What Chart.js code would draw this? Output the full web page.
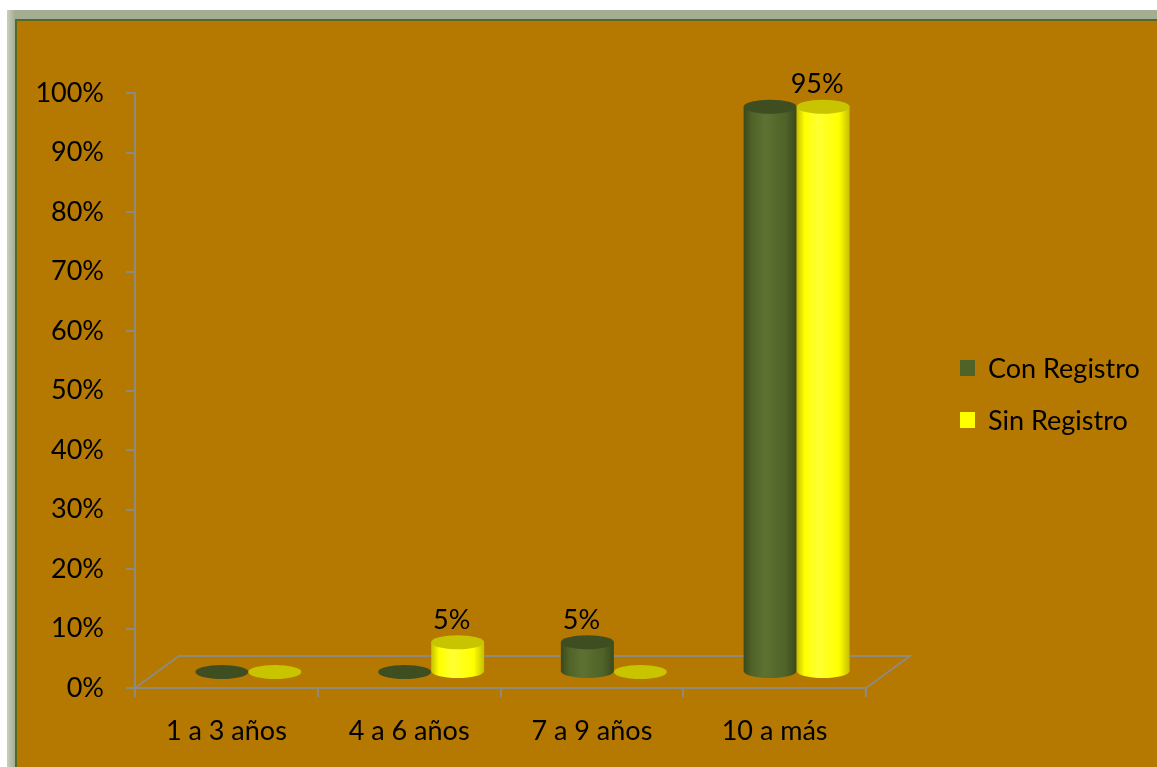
<!DOCTYPE html>
<html>
<head>
<meta charset="utf-8">
<script src="https://cdn.jsdelivr.net/npm/chart.js@4.4.0/dist/chart.umd.min.js"></script>
<style>
  body { margin: 0; background: #ffffff; overflow: hidden; }
  #marco {
    position: absolute; left: 7px; top: 10px; width: 1200px; height: 800px;
    background: linear-gradient(to right, #c9cfbd, #a3ad92 8px);
  }
  #fondo {
    position: absolute; left: 15px; top: 19px; width: 1200px; height: 800px;
    border: 2px solid #55682a; background: #b57800;
  }
  #grafico { position: absolute; left: 0; top: 0; }
</style>
</head>
<body>
<div id="marco"></div>
<div id="fondo"></div>
<canvas id="grafico" width="1157" height="767"></canvas>
<script>
const categorias = ["1 a 3 años", "4 a 6 años", "7 a 9 años", "10 a más"];
const conRegistro = [0, 0, 5, 95];
const sinRegistro = [0, 5, 0, 95];
// etiquetas de datos que se ven en el grafico
const etiquetasCon = ["", "", "5%", ""];
const etiquetasSin = ["", "5%", "", "95%"];
const marcasY = [0, 10, 20, 30, 40, 50, 60, 70, 80, 90, 100];

const fuente = "Lato, 'Open Sans', sans-serif";
const tamLetra = 27;
const gris = "#8e8a7e";
const prof = { dx: 44, dy: -32 };   // fondo 3D del piso

const colores = {
  con: { base: "#4f6228", borde: "#3a4a1c", luz: "#5d7232", tapa: "#3e4e20" },
  sin: { base: "#ffff00", borde: "#c4c000", luz: "#ffff33", tapa: "#c8c400" }
};

// dibuja los cilindros usando las coordenadas que calcula Chart.js
const cilindros = {
  id: "cilindros",
  beforeDatasetsDraw(chart) {
    const ctx = chart.ctx;
    const a = chart.chartArea;
    ctx.save();
    ctx.strokeStyle = gris;
    ctx.lineWidth = 2;
    ctx.beginPath();
    ctx.moveTo(a.left, a.bottom);
    ctx.lineTo(a.left + prof.dx, a.bottom + prof.dy);
    ctx.lineTo(a.right + prof.dx, a.bottom + prof.dy);
    ctx.lineTo(a.right, a.bottom);
    ctx.stroke();

    const dx = prof.dx / 2, dy = prof.dy / 2, ry = 7;
    chart.data.datasets.forEach((ds, i) => {
      const c = ds.paleta;
      chart.getDatasetMeta(i).data.forEach((el) => {
        const cx = el.x + dx;
        const w = el.width;
        const top = el.y + dy;
        const base = el.base + dy;
        if (base - top < 1) {
          ctx.fillStyle = c.tapa;
          ctx.beginPath();
          ctx.ellipse(cx, base, w / 2, ry, 0, 0, Math.PI * 2);
          ctx.fill();
          return;
        }
        const g = ctx.createLinearGradient(cx - w / 2, 0, cx + w / 2, 0);
        g.addColorStop(0, c.borde);
        g.addColorStop(0.15, c.base);
        g.addColorStop(0.4, c.luz);
        g.addColorStop(0.8, c.base);
        g.addColorStop(1, c.borde);
        ctx.fillStyle = g;
        ctx.beginPath();
        ctx.moveTo(cx - w / 2, top);
        ctx.lineTo(cx - w / 2, base);
        ctx.ellipse(cx, base, w / 2, ry, 0, Math.PI, 0, true);
        ctx.lineTo(cx + w / 2, top);
        ctx.closePath();
        ctx.fill();
        ctx.fillStyle = c.tapa;
        ctx.beginPath();
        ctx.ellipse(cx, top, w / 2, ry, 0, 0, Math.PI * 2);
        ctx.fill();
      });
    });
    ctx.restore();
    return false;
  },
  afterDraw(chart) {
    const ctx = chart.ctx;
    ctx.save();
    ctx.font = tamLetra + "px " + fuente;
    ctx.fillStyle = "#000";
    ctx.textAlign = "center";
    ctx.textBaseline = "middle";
    chart.data.datasets.forEach((ds, i) => {
      chart.getDatasetMeta(i).data.forEach((el, j) => {
        const txt = ds.etiquetas[j];
        if (!txt) return;
        ctx.fillText(txt, el.x + prof.dx / 2 - 6, el.y + prof.dy / 2 - 22);
      });
    });
    // leyenda
    ctx.textAlign = "left";
    chart.data.datasets.forEach((ds, i) => {
      const y = 368 + i * 52;
      ctx.fillStyle = ds.backgroundColor;
      ctx.fillRect(960, y - 8, 15, 16);
      ctx.fillStyle = "#000";
      ctx.fillText(ds.label, 988, y + 1);
    });
    ctx.restore();
  }
};

new Chart(document.getElementById("grafico"), {
  type: "bar",
  data: {
    labels: categorias,
    datasets: [
      { label: "Con Registro", data: conRegistro, backgroundColor: colores.con.base,
        paleta: colores.con, etiquetas: etiquetasCon },
      { label: "Sin Registro", data: sinRegistro, backgroundColor: colores.sin.base,
        paleta: colores.sin, etiquetas: etiquetasSin }
    ]
  },
  options: {
    responsive: false,
    animation: false,
    categoryPercentage: 0.58,
    barPercentage: 1,
    layout: { padding: { left: 20, top: 93, right: 291, bottom: 0 } },
    plugins: { legend: { display: false }, tooltip: { enabled: false } },
    scales: {
      x: {
        grid: { display: true, offset: true, drawOnChartArea: false, color: gris, lineWidth: 2, tickLength: 9 },
        border: { color: gris, width: 2 },
        ticks: { color: "#000", font: { family: fuente, size: tamLetra }, padding: 18 },
        afterFit(s) { s.height = 79; }
      },
      y: {
        min: 0, max: 100,
        afterBuildTicks(s) { s.ticks = marcasY.map((v) => ({ value: v })); },
        grid: { display: true, drawOnChartArea: false, color: gris, lineWidth: 2, tickLength: 9 },
        border: { color: gris, width: 2 },
        ticks: { color: "#000", font: { family: fuente, size: tamLetra }, padding: 22,
                 callback: (v) => v + "%" },
        afterFit(s) { s.width = 115; }
      }
    }
  },
  plugins: [cilindros]
});
</script>
</body>
</html>
